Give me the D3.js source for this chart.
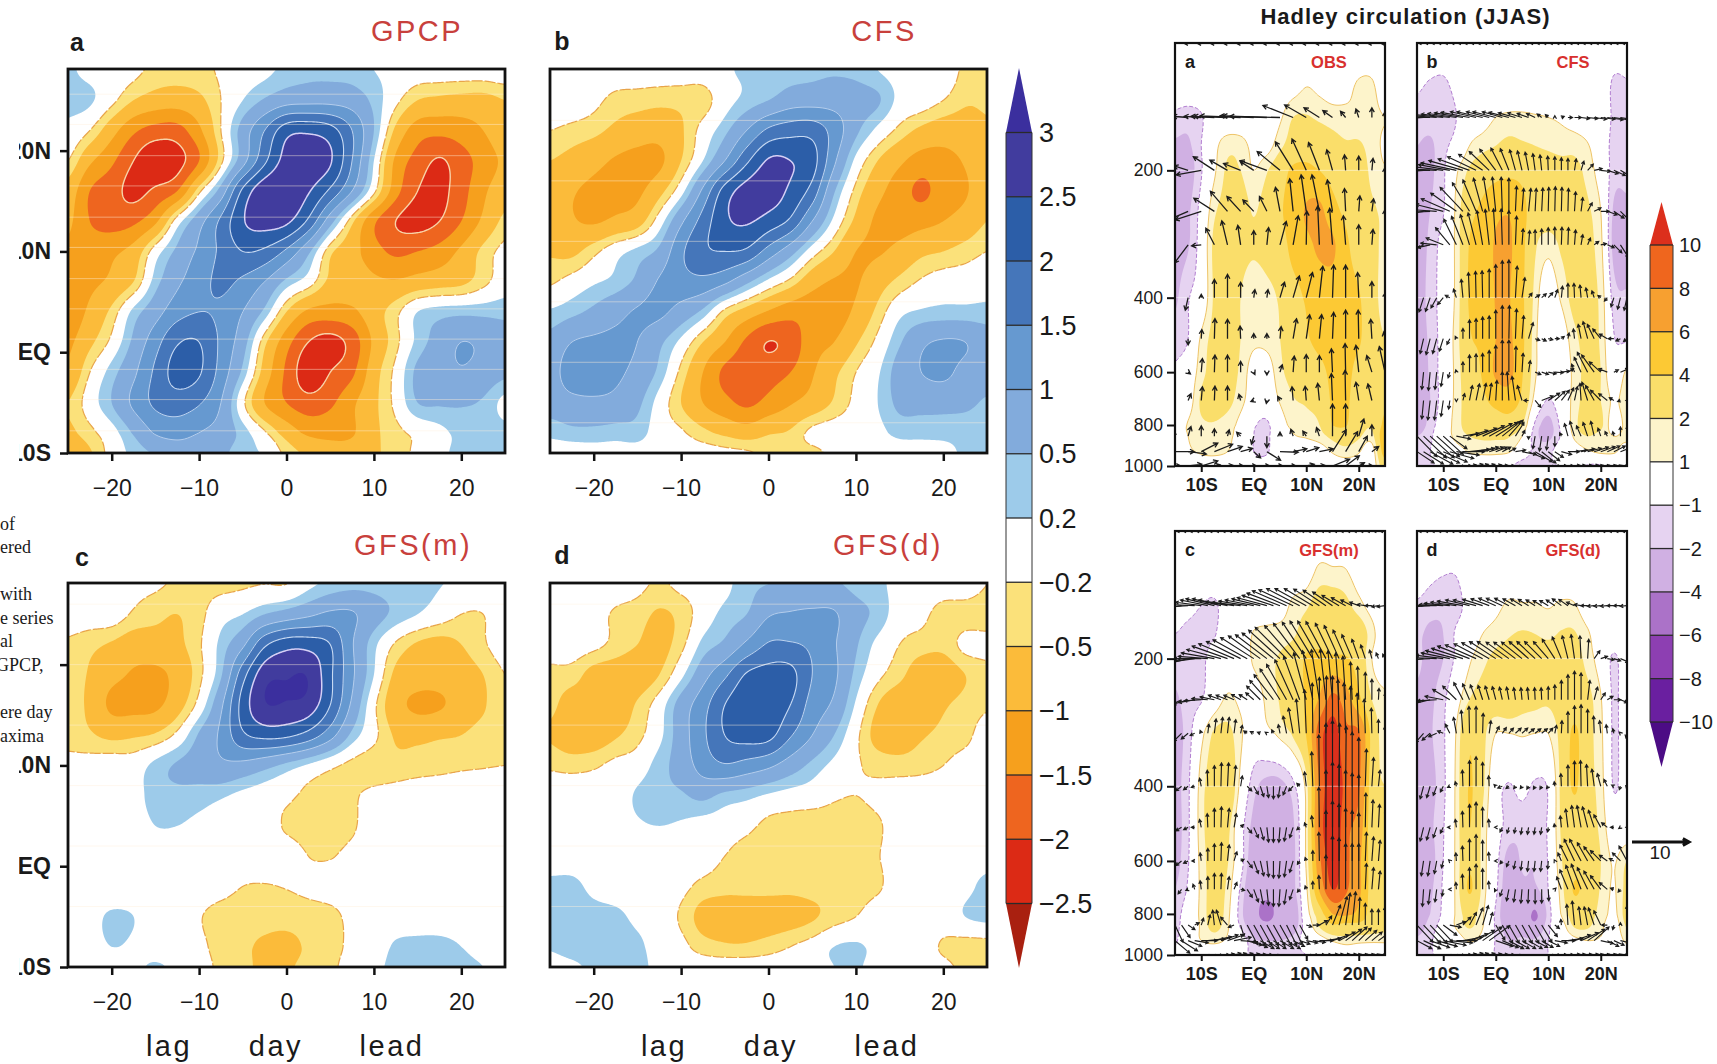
<!DOCTYPE html>
<html>
<head>
<meta charset="utf-8">
<script src="https://cdn.jsdelivr.net/npm/d3@7"></script>
<style>
body { margin: 0; background: #fff; }
text { font-family: "Liberation Sans", sans-serif; fill: #1a1a1a; }
</style>
</head>
<body>
<script>
const width = 1717;
const height = 1064;

// lag-latitude panels: rain anomaly, one row per latitude
const lags = d3.range(21).map(i => -25 + i * 2.5);
const lats = [28, 25, 22, 19, 16, 13, 10, 7, 4, 1, -2, -5, -8, -10];

const gpcp = [
  [.25,.1,0,-.1,-.3,-.35,-.3,-.15,0,.1,.3,.4,.4,.35,.2,.1,0,0,0,0,.05],
  [.3,.25,-.1,-.5,-.7,-.75,-.6,-.2,.2,.55,.8,.85,.85,.75,.4,-.1,-.5,-.6,-.65,-.65,-.5],
  [.1,-.2,-.8,-1.4,-1.7,-1.7,-1.1,-.2,.7,1.5,2.3,2.4,2.2,1.5,.5,-.6,-1.25,-1.35,-1.25,-1,-.6],
  [-.2,-.9,-1.4,-2,-2.4,-2.2,-1.5,-.3,.8,1.9,2.7,2.8,2.55,1.5,.2,-1.1,-1.7,-2.05,-1.7,-1.3,-.9],
  [-.7,-1.5,-1.8,-2.15,-1.9,-1.5,-.3,.7,2.1,2.85,2.9,2.55,1.9,1,-.1,-1.3,-2,-2.15,-1.7,-1.1,-.7],
  [-.9,-1.5,-1.7,-1.6,-1.1,0,.8,1.6,2.45,2.7,2.6,1.9,.7,-.4,-1.4,-2,-2.2,-2,-1.5,-.9,-.4],
  [-1.1,-1.2,-1.1,-.8,0,.6,1.1,1.6,2,1.9,1.4,.6,-.4,-.8,-1.3,-1.6,-1.5,-1.3,-.9,-.4,-.1],
  [-1.2,-1.1,-.9,-.5,.35,.9,1.3,1.6,1.4,1,.4,0,-.6,-.7,-.9,-.95,-.8,-.7,-.6,-.3,0],
  [-1.3,-.9,-.4,.3,.8,1.3,1.5,1.4,1,.4,-.5,-1.1,-1.2,-1.1,-.7,-.3,.2,.35,.4,.4,.4],
  [-1.1,-.6,-.1,.6,1.3,1.95,2,1.4,.7,-.4,-1.3,-2,-2.2,-1.8,-.9,-.3,.3,.7,1,.9,.7],
  [-.9,-.2,.35,.9,1.6,2.2,2.05,1.3,.4,-.7,-1.6,-2.3,-2,-1.6,-.7,-.1,.6,.8,.95,.8,.6],
  [-.5,0,.5,1.1,1.6,1.75,1.55,1,-.1,-1,-1.5,-1.8,-1.6,-1.1,-.6,-.1,.5,.55,.55,.45,.1],
  [-.6,-.3,.05,.55,1.05,1.2,1,.8,.35,-.15,-.7,-1.1,-1.15,-1.05,-.6,-.3,-.1,.1,.3,.35,.3],
  [-.9,-.55,-.05,.3,.55,.7,.7,.6,.3,.15,-.3,-.6,-.8,-.8,-.55,-.4,-.1,.1,.3,.3,.3]
];
const cfs = [
  [0,0,0,0,0,0,0,0,.15,.25,.3,.35,.4,.45,.4,.2,.05,.05,.1,-.3,-.4],
  [.05,.05,-.1,-.3,-.35,-.4,-.4,-.35,.05,.3,.5,.75,.8,.8,.7,.55,.1,0,-.2,-.45,-.45],
  [-.2,-.3,-.4,-.6,-.75,-.8,-.55,-.05,.4,1,1.6,1.8,1.8,1.3,.6,.1,-.3,-.6,-.75,-.7,-.55],
  [-.5,-.65,-.85,-1.05,-1.15,-1.1,-.5,.2,1,1.9,2.55,2.5,2.2,1.1,.1,-.5,-.9,-1.2,-1.15,-.95,-.6],
  [-.7,-.95,-1.1,-1.15,-1.1,-.65,.05,1.1,2.2,2.7,2.75,2.4,1.8,.55,-.3,-.85,-1.25,-1.6,-1.25,-1.05,-.7],
  [-.7,-.95,-1.05,-.9,-.7,0,.9,1.7,2.4,2.55,2.3,1.9,1,.1,-.6,-1.1,-1.2,-1.15,-1,-.8,-.5],
  [-.55,-.6,-.3,.05,.3,.6,1.4,1.9,2,1.9,1.3,.7,0,-.5,-1,-1.05,-.85,-.6,-.5,-.35,-.2],
  [-.25,-.05,.15,.3,.6,1.05,1.3,1.35,1.1,.6,.1,-.3,-.8,-1.05,-1.05,-.7,-.4,-.15,0,0,.05],
  [.25,.4,.6,.85,1.05,1.1,.8,.4,-.3,-.7,-1.05,-1.3,-1.3,-1.25,-.9,-.4,.1,.25,.3,.3,.3],
  [.65,1,1.1,1.1,1,.6,.1,-.5,-1,-1.6,-2.01,-1.8,-1.2,-1,-.55,-.1,.45,.9,1.05,1,.75],
  [.8,1.25,1.3,1.1,.85,.4,-.3,-1,-1.6,-1.75,-1.7,-1.5,-1.05,-.6,-.2,.15,.7,1,1.1,.85,.7],
  [.7,.85,.9,.85,.6,.05,-.5,-1,-1.35,-1.6,-1.35,-1.05,-.8,-.45,-.1,.2,.6,.65,.65,.6,.45],
  [.3,.4,.4,.35,.35,0,-.15,-.4,-.6,-.75,-.55,-.45,-.1,0,0,.1,.3,.3,.3,.3,.3],
  [0,0,.05,.05,.05,0,-.05,-.05,-.1,-.15,-.3,-.35,-.3,-.1,0,0,0,.05,.1,.25,.3]
];
const gfsM = [
  [0,0,0,-.1,-.15,-.25,-.3,-.3,-.25,-.2,-.2,.1,.3,.4,.4,.35,.3,.22,.1,0,0],
  [0,0,0,-.25,-.4,-.5,-.3,.05,.2,.5,.7,.9,1.1,1.05,.7,.4,.2,0,-.2,-.2,0],
  [-.25,-.4,-.55,-.75,-.7,-.6,-.25,.3,.9,1.9,2.3,2.3,2,1.05,.3,-.25,-.55,-.65,-.5,-.25,0],
  [-.25,-.55,-.85,-1.05,-1.1,-.85,-.3,.45,1.8,2.8,2.95,2.95,2.1,1.1,.2,-.6,-.75,-.8,-.7,-.5,-.2],
  [-.3,-.6,-1.1,-1.15,-1.1,-.7,-.05,.9,2.2,2.95,2.95,2.8,2,.9,-.1,-.8,-1.1,-1.05,-.8,-.55,-.2],
  [-.3,-.45,-.6,-.55,-.45,-.1,.55,1.1,1.9,2.15,2.1,1.8,1.2,.4,-.1,-.55,-.6,-.55,-.5,-.35,-.3],
  [-.1,-.05,0,0,.3,.55,.7,.9,.85,.65,.4,.15,-.1,-.3,-.4,-.4,-.35,-.3,-.25,-.22,-.2],
  [0,0,0,.05,.35,.4,.35,.25,.1,0,-.1,-.3,-.35,-.25,-.1,-.05,0,0,0,0,0],
  [0,0,0,0,.2,.2,.1,0,0,0,-.25,-.35,-.35,-.25,0,0,0,0,0,0,0],
  [0,0,0,0,0,0,0,0,0,0,0,-.2,-.22,-.1,0,0,0,0,0,0,0],
  [0,0,0,0,0,0,0,-.06,-.2,-.22,-.18,-.12,-.05,0,0,0,0,0,0,0,0],
  [0,.1,.24,.2,0,0,-.17,-.35,-.4,-.4,-.38,-.35,-.3,-.1,0,0,0,0,0,0,0],
  [0,.08,.2,.15,0,0,-.1,-.35,-.45,-.55,-.6,-.45,-.35,-.1,0,.25,.3,.3,.2,.05,0],
  [0,0,0,.1,.25,.1,0,-.3,-.4,-.6,-.55,-.4,-.3,0,.1,.3,.3,.3,.3,.2,0]
];
const gfsD = [
  [0,0,0,0,-.1,-.25,-.1,0,.1,.4,.5,.55,.55,.55,.4,.3,.05,0,0,0,-.2],
  [0,0,-.05,-.25,-.35,-.55,-.4,0,.3,.5,.95,1.05,1.1,1.05,.65,.4,0,-.1,-.35,-.35,-.35],
  [0,0,-.1,-.3,-.5,-.65,-.3,.3,.6,1.1,1.55,1.55,1.4,1.05,.55,.1,-.2,-.35,-.4,-.1,-.1],
  [-.3,-.35,-.65,-.75,-.75,-.5,.1,.8,1.4,2.05,2.2,2.15,1.5,1.1,.4,-.1,-.4,-.75,-.75,-.5,-.3],
  [-.4,-.7,-.6,-.75,-.45,0,.7,1.3,2,2.35,2.3,2,1.3,.9,.15,-.5,-.8,-.8,-.55,-.4,-.25],
  [-.55,-.8,-.75,-.55,-.3,.1,.75,1.4,2,2.2,2.15,1.55,1,.5,-.1,-.65,-.75,-.55,-.4,-.3,0],
  [-.25,-.3,-.25,-.1,0,.35,.7,1.2,1.45,1.3,1.1,.75,.4,.1,-.15,-.3,-.35,-.3,-.2,-.05,0],
  [0,0,0,0,.25,.4,.45,.6,.4,.3,.15,.05,0,-.15,-.2,-.12,0,0,0,0,0],
  [0,0,0,0,.15,.2,.15,.05,0,-.1,-.3,-.35,-.4,-.35,-.35,-.25,0,0,0,0,0],
  [0,0,0,0,0,0,0,0,-.2,-.35,-.4,-.4,-.42,-.4,-.35,-.22,0,0,0,0,.05],
  [.3,.3,.1,0,0,0,-.1,-.3,-.4,-.4,-.4,-.42,-.4,-.4,-.35,-.25,0,0,0,.1,.3],
  [.4,.4,.35,.3,.1,0,-.25,-.65,-.7,-.72,-.72,-.68,-.55,-.35,-.2,0,0,0,0,.2,.3],
  [.25,.4,.45,.45,.3,0,-.1,-.35,-.45,-.45,-.35,-.2,-.05,.2,.25,.1,0,0,-.25,-.35,-.35],
  [0,.1,.3,.35,.35,.05,0,0,0,0,0,0,.05,.2,.25,.05,0,0,-.1,-.3,-.35]
];

const lagTicks = [-20, -10, 0, 10, 20];
const latTicks = [20, 10, 0, -10];
const latLabels = ["20N", "10N", "EQ", "10S"];
const latLabelsC = ["", "10N", "EQ", "10S"];

// the faint scan lines left in the reproduction
const faintA = [25.6, 22.6, 19.5, 16.5, 13.4, 10.4, 7.3, 4.3, 1.3, -1.7, -4.7, -7.8];
const faintB = [23, 17, 11, 5, -1, -7];
const faintCD = [26, 20, 14, 8, 2, -4];

const rainLevels = [-2.5, -2, -1.5, -1, -0.5, -0.2, 0.2, 0.5, 1, 1.5, 2, 2.5, 3];
const rainColors = ["#a92010", "#dc2a15", "#ee651f", "#f6a01d", "#fbbb3a", "#fbe17a", "#ffffff",
  "#9dcbea", "#82abdc", "#6699d0", "#4576ba", "#2c5ea8", "#413c9e", "#3b2f9e"];
const rainLabels = ["3", "2.5", "2", "1.5", "1", "0.5", "0.2", "−0.2", "−0.5", "−1", "−1.5", "−2", "−2.5"];

// Hadley panels: shading (vertical motion)
const hadleyLats = d3.range(17).map(i => -15 + i * 2.5);
const shadeLevels = [100, 125, 150, 175, 200, 250, 300, 400, 500, 600, 700, 800, 850, 925, 1000];

const shadeObs = [
  [0,0,0,0,0,0,0,0,0,0,0,0,0,0,0,0,0],
  [0,0,0,0,0,0,0,0,0,.3,.9,.6,.3,.6,1.1,1.1,.3],
  [-1.3,-1.5,-1.1,0,0,0,0,0,.8,2,2.1,1.8,1.5,1.3,1.2,1.2,1],
  [-2.2,-2.2,-1,.6,1.6,1.5,.6,.5,1.7,2.7,3.1,3,2.6,2.2,2.2,1.5,.8],
  [-2.6,-2.6,-1.1,.8,2.2,2,1,1.9,3.2,4.3,4.5,4,3.4,3.1,2.8,1.7,1.1],
  [-2.5,-2.2,-.5,1.8,2.4,2.8,1.9,2.8,3.8,4.7,6.2,6.5,4.7,3.6,2.8,2.2,1.8],
  [-2.5,-2.1,-.3,2.3,2.2,2.4,2.2,2.6,3.2,4.6,5.4,6.4,6.3,4.5,2.9,2.3,1.8],
  [-2.2,-1.1,-.2,2.2,2.6,2,1.3,1.6,2.2,3.3,4.2,4.8,5,4.9,4.2,2.4,1.8],
  [-1.5,-1,1.2,2.4,2.4,2,1.3,1.4,2,3,3.8,4.5,4.8,4.9,4.3,2.5,2],
  [-.8,-.1,1.6,2.5,2.5,1.8,.3,.3,1.7,2.5,2.9,3.5,4.4,4.7,3.2,2.6,2.3],
  [-.2,.3,2.2,2.6,2.4,1.4,.2,0,1.1,1.9,2.2,2.8,4.2,4.4,2.8,2.4,3.5],
  [0,1.1,1.8,1.9,1.5,.6,-.8,-1.2,.4,1.3,1.5,2,4,4.1,2.8,2.2,4.5],
  [0,1,1.4,1.3,1.2,.5,-1,-1.2,.1,.9,1.1,1.5,2.4,3,2.2,1.6,5.5],
  [0,.8,1.1,1.2,1,.4,-1,-1.1,0,.6,.2,.3,1.1,1.5,1.1,.3,5],
  [0,.3,.5,.4,.3,.1,-.5,-.5,0,0,0,0,.4,.5,.5,.2,3]
];
const shadeCfs = [
  [0,0,0,0,0,0,0,0,0,0,0,0,0,0,0,0,0],
  [-.8,-1.1,-1.2,-.6,0,0,0,0,0,0,0,0,0,0,0,-1.2,-1.1],
  [-1.4,-1.5,-1.5,-1,0,.4,1,1.2,1.2,1.1,1,.8,.4,.1,0,-1.2,-1.2],
  [-2,-2.2,-1.3,-.5,1,1.6,2,2.4,2.2,2,1.8,1.6,1.6,1.1,0,-1.4,-1.3],
  [-2.2,-2.2,-1.2,.8,2.2,3,3.4,3.6,3.5,2.9,2.7,2.5,2.4,1.6,.3,-1.5,-1.6],
  [-2.3,-2,-1.1,1.3,3.4,4.4,5.5,5.8,4.6,3,2.8,2.6,2.6,2.2,1,-2.2,-2.3],
  [-2.3,-1.8,-.3,1.3,4.1,4.7,6.2,6.3,4.5,2.2,1.4,2.2,2.6,2.3,1.3,-2.4,-2.5],
  [-2.3,-1.7,-.2,1.3,4.2,4.5,6.1,6.1,4.4,1.6,0,1.2,2.5,2.3,1.7,-1.5,-1.9],
  [-2.4,-1.8,-.3,1.5,3.8,4.3,6,6.3,4.5,1.3,-.1,.2,1.7,2.4,1.8,-.9,-1.2],
  [-3.2,-1.8,-.4,1.4,3.2,4.2,6.3,6.6,4.2,1.2,0,.2,1.3,2.5,2,-.2,1.2],
  [-3.8,-2,-.4,1.4,2.8,3.6,4.6,5,3.6,.5,-1.1,0,1.4,2.6,2,.8,1.6],
  [-3,-1.5,-.2,1.6,2.4,2.8,3,3.2,2.2,-1.2,-2.4,-.6,1.6,2.8,2.3,.3,1.4],
  [-2,-1.2,0,1.4,2,2.2,2.2,2.1,1,-1.6,-2.3,-.8,1.2,2,1.5,1,1.2],
  [-1.2,-1,-.2,.3,1.1,1.3,1.3,1.1,-.1,-1.3,-1.3,-.2,.2,.8,1.2,1.1,.6],
  [-1.3,-1.1,-.8,-.6,-.2,-.2,-.3,-.8,-1.5,-1.4,-1.2,-.9,-.6,-1.1,-1.1,-.2,0]
];
const shadeGfsM = [
  [0,0,0,0,0,0,0,0,0,0,0,0,0,0,0,0,0],
  [0,0,0,0,0,0,0,0,0,0,.3,1.3,1.2,1.1,.3,0,0],
  [-.2,-.6,-1,-1.2,-.2,0,0,0,.3,1.3,1.8,2.8,2.9,2.4,1.4,.5,0],
  [-1,-1.3,-1.3,-1.1,0,0,1.1,1.4,1.5,1.8,2.8,3.2,3.2,3.2,3,1.4,0],
  [-1.4,-1.3,-1.3,-.3,0,0,1.2,1.8,2.1,2.8,4.2,4.6,4.4,4.2,3.2,1,.2],
  [-2.2,-1.5,-1.1,.2,1.2,.7,.1,1.3,2.1,3,4.2,6.2,8.6,7,4.5,2,1.2],
  [-2.5,-1.5,.6,2.2,2.4,1.2,0,.6,1.3,2.2,4.1,9,11,8.5,8.2,3.4,1.3],
  [-2.4,-1.2,1.5,2.8,3.6,.6,-1.6,-2.4,-2.4,-1.3,1.5,8.2,11.5,9.5,8.3,3,2],
  [-2.5,-1.2,1.6,2.6,2.4,-.4,-2.4,-2.9,-2.9,-2.2,1.3,8.5,12,8.6,7.2,3,3.2],
  [-2.4,-1.1,1.4,2.6,2.1,-.4,-3,-3.2,-3.2,-2.4,1.2,7.5,11,8.6,6.5,3.3,3.2],
  [-2,-.8,1.3,2.6,1.7,-1.2,-3.4,-3.5,-3.5,-2.4,.7,6.2,10,8.3,6.5,3.3,3.2],
  [-1.5,-.2,1.3,2.7,1.4,-1.6,-3.4,-4.5,-3.4,-3.2,.3,3,6,6.4,5.5,3.2,3.2],
  [-1.3,-.2,1.2,2.5,1.2,-1.2,-3,-3.6,-3,-2.8,-.2,2.2,3.8,3.5,3.5,3,2.6],
  [-1.2,.3,1,1.3,.8,-.1,-1.8,-2,-2,-1.6,-.3,.3,1.1,1.5,1.3,1.2,1.2],
  [-.6,0,0,0,0,-.8,-1.1,-1.2,-1.2,-1.2,-1,-.6,-.3,0,0,0,0]
];
const shadeGfsD = [
  [0,0,0,0,0,0,0,0,0,0,0,0,0,0,0,0,0],
  [0,-.6,-.9,-.9,-.1,0,0,0,0,0,0,0,0,0,0,0,0],
  [-1.2,-1.6,-1.7,-1.4,-.5,0,.6,1.2,1.1,1.1,.9,1.2,1.1,.1,0,0,0],
  [-1.8,-2.2,-2,-.8,0,1,1.5,1.9,2.1,2,1.8,2.1,2.1,1.2,0,-.1,0],
  [-1.8,-2.3,-2,-.7,.8,1.7,2.3,2.5,2.5,2.5,2.5,2.6,2.5,1.6,.3,-1.2,0],
  [-2.2,-2.2,-1.3,.4,2,2.5,2.8,3,2.5,2.3,2.2,2.6,2.9,2.4,1.1,-1.2,0],
  [-2.2,-2.1,-1.2,1.1,3.7,2.4,1,1,1.1,1,1,2.5,4.3,2.5,1.3,-1.2,0],
  [-2.5,-2.3,-1.3,1.3,4.1,2.3,-.3,-1.1,-.5,-1.2,-.8,2.4,4.2,2.5,1.5,-1.1,0],
  [-2.6,-2.2,-1.1,1.3,4,1.7,-.3,-1.4,-1.7,-1.5,-.8,2.2,3,2.8,1.7,0,0],
  [-2.4,-2.4,-1,1.3,3.7,1.6,-.5,-2.5,-1.9,-1.9,-.9,1.9,3,3.8,2,.9,2],
  [-2.3,-2.2,-.8,1.3,4.2,1.6,-.7,-3,-2.2,-2.2,-1,1.5,4.2,3,1.9,.9,2.4],
  [-2.6,-2,-.7,1.2,2.6,1.2,-1.2,-3.2,-2.6,-4.2,-1.6,1.1,2.7,2.4,1.7,.7,2.6],
  [-2.6,-1.6,-.4,1.2,2.2,1.1,-1.2,-2.7,-2.6,-3.6,-1.3,.4,2.2,2.2,1.3,.3,2.2],
  [-1.8,-1.2,0,.3,1.1,.5,-1.1,-2,-1.8,-1.8,-1,-.1,.6,1,.8,.3,1.2],
  [-1.3,-1.1,-.6,0,0,-.3,-1.1,-1.4,-1.2,-1.2,-1,-.8,-.6,-.7,-.6,.3,.5]
];

const shadeBands = [-10, -8, -6, -4, -2, -1, 1, 2, 4, 6, 8, 10];
const shadeColors = ["#4c0c85", "#6a1fa0", "#8d3fb2", "#ab72c8", "#d0b0e3", "#e6d3f1", "#ffffff",
  "#fdf4cb", "#fade6a", "#fcc934", "#f7a030", "#ef661e", "#dc2f1c"];
const shadeLabels = ["10", "8", "6", "4", "2", "1", "−1", "−2", "−4", "−6", "−8", "−10"];

// Hadley panels: wind vectors, in tenths of the reference arrow's unit
const windLevels = [100, 150, 200, 250, 300, 400, 500, 600, 700, 850, 925, 1000];
const obsLats = hadleyLats;
const modelLats = d3.range(33).map(i => -15 + i * 1.25);

const obsU = [
  [-8,-8,-8,-8,-8,-8,-8,-8,-8,-8,-8,-8,-8,-8,-8,-8,-8],
  [-18,-27,-30,-41,-59,-71,-59,-77,-88,-53,-38,-27,-17,-9,-5,0,0],
  [-20,-25,-44,-37,-31,-30,-24,-47,-40,-31,-25,-19,-10,-2,0,2,0],
  [-15,-28,-46,-36,-30,-24,-19,-13,-8,-6,-9,-13,-9,-2,2,3,0],
  [-10,-24,-17,-15,-10,-5,0,3,11,9,1,-3,-5,-4,0,2,0],
  [0,-5,0,0,0,0,2,2,8,11,11,6,2,0,-2,0,1],
  [0,0,1,1,0,-1,0,0,2,6,6,4,2,0,-1,-2,-2],
  [0,4,2,1,0,0,2,0,4,2,0,0,-2,-1,-5,-9,-10],
  [0,5,2,1,0,-3,-5,-1,-4,-2,-2,-3,-2,-1,-5,-7,0],
  [-6,5,0,0,3,-7,-4,0,0,-4,-6,-5,0,0,9,0,0],
  [34,32,29,32,26,21,12,24,32,24,22,24,24,21,15,12,9],
  [10,24,29,10,10,5,5,5,5,5,14,10,30,24,10,2,0]
];
const obsW = [
  [0,0,0,0,0,0,0,0,0,0,0,0,0,0,0,0,0],
  [2,2,2,2,2,3,3,3,2,21,22,17,12,11,15,17,10],
  [0,8,-8,24,18,12,16,17,33,50,55,49,36,27,25,21,5],
  [-8,-12,-15,23,35,26,20,26,42,57,64,64,55,40,27,22,3],
  [-20,-32,-2,29,42,34,25,30,41,51,59,68,64,51,35,27,0],
  [0,-22,6,32,41,27,14,14,27,38,44,55,57,57,44,28,9],
  [0,-11,16,35,34,22,9,9,21,35,42,42,46,50,50,34,12],
  [0,-3,24,30,30,19,-4,-5,13,28,31,29,41,50,47,29,45],
  [0,12,24,25,25,11,-2,-5,7,24,25,30,47,53,32,29,0],
  [3,17,18,13,11,7,-14,-20,7,12,9,15,56,56,30,20,0],
  [0,-4,15,13,9,6,-11,-15,-1,5,7,5,38,35,27,9,11],
  [0,3,9,2,1,0,0,0,0,0,3,1,12,18,6,0,0]
];

const topRowU = [-9,-9,-9,-9,-9,-9,-9,-9,-9,-9,-9,-9,-9,-9,-9,-9,-9,-9,-9,-9,-9,-9,-9,-9,-9,-9,-9,-9,-9,-9,-9,-9,-9];
const topRowW = [0,0,0,0,0,0,0,0,0,0,0,0,0,0,0,0,0,0,0,0,0,0,0,0,0,0,0,0,0,0,0,0,0];
const surfaceU = [15,15,18,18,18,18,15,15,12,12,10,10,10,10,10,12,12,12,12,12,12,10,10,10,10,8,8,8,5,5,5,3,3];
const surfaceW = [-3,-3,-3,-3,-2,-2,-1,0,2,3,3,3,2,1,0,-2,-3,-3,-3,-3,-2,-1,0,0,1,1,1,1,1,1,1,1,1];

const cfsU = [
  topRowU,
  [-20,-30,-40,-45,-50,-50,-50,-50,-50,-45,-45,-40,-40,-35,-35,-30,-25,-20,-15,-8,-5,0,5,8,12,15,18,22,25,28,30,35,38],
  [-20,-30,-35,-40,-50,-55,-62,-60,-55,-50,-42,-35,-28,-20,-15,-10,-8,-6,-4,-3,-1,0,0,0,3,5,10,14,17,19,20,20,20],
  [-25,-30,-38,-45,-48,-50,-45,-40,-30,-23,-16,-10,-6,-2,0,2,3,4,2,2,1,1,1,1,2,3,8,12,15,17,18,18,18],
  [-15,-18,-22,-28,-30,-25,-22,-20,-16,-14,-10,-7,-4,-2,0,2,2,2,0,0,0,0,1,1,2,3,5,8,10,12,14,14,14],
  [-8,-8,-8,-10,-10,-8,-5,-3,-2,-1,-1,0,0,0,0,3,5,6,8,8,8,5,2,0,-1,-2,-3,-4,-5,-5,-5,-5,-5],
  [-6,-6,-7,-7,-7,-5,-2,0,0,0,0,0,0,0,1,2,3,8,8,8,8,8,5,2,-2,-5,-8,-12,-14,-14,-10,-8,-6],
  [-3,-3,-3,-3,-4,-3,-1,0,0,0,0,0,0,0,0,1,2,3,10,12,14,15,14,10,-5,-12,-18,-22,-20,-15,8,14,16],
  [-3,-3,-4,-4,-4,-2,0,3,5,6,6,4,2,0,-3,-6,-8,-8,10,20,20,18,14,10,5,-2,-10,-15,-18,-15,-8,-5,-2],
  [35,40,42,40,35,30,25,28,32,36,38,40,38,32,25,15,5,0,-4,-4,-3,0,-3,-6,-8,-8,-8,-6,-5,-4,-2,0,1],
  [30,35,40,40,42,42,40,38,35,32,28,25,20,15,12,18,25,28,30,25,20,15,18,20,22,24,24,25,25,22,20,20,18],
  surfaceU
];
const cfsW = [
  topRowW,
  [-3,-2,0,3,5,6,7,8,9,10,10,10,10,10,9,8,8,7,7,6,5,3,2,0,0,-2,-2,-3,-3,-4,-5,-6,-8],
  [-5,-3,0,2,6,10,13,17,20,24,28,33,37,39,38,36,34,32,29,27,25,24,22,21,20,16,11,3,-2,-6,-9,-12,-15],
  [-7,-5,-2,3,12,22,32,42,50,55,58,60,60,60,58,44,40,40,40,41,42,43,42,40,34,24,15,6,0,-6,-12,-18,-24],
  [-14,-10,-5,3,12,30,45,50,53,56,60,62,63,63,60,50,28,25,26,28,30,31,31,30,26,18,12,6,2,-5,-14,-22,-28],
  [-22,-25,-24,-18,-12,4,15,32,44,46,47,50,58,65,66,55,35,8,5,7,9,14,20,25,25,22,17,12,4,-6,-16,-20,-22],
  [-25,-26,-28,-26,-22,-10,4,18,33,35,38,40,50,58,58,52,40,28,-3,-4,-2,0,4,10,17,25,30,25,17,8,0,-4,-5],
  [-28,-30,-32,-30,-25,-10,4,18,30,32,33,38,47,56,56,45,33,20,-4,-4,-3,-1,2,6,14,26,35,30,18,6,4,6,4],
  [-30,-32,-34,-34,-28,-15,-2,12,26,29,30,30,35,50,50,42,26,0,-12,8,13,16,18,22,24,30,32,26,18,12,5,-2,0],
  [-36,-38,-38,-36,-32,-22,-5,5,10,14,18,22,24,26,28,24,10,-5,-22,-26,-24,-18,6,22,26,18,24,26,14,8,8,16,18],
  [-20,-22,-22,-20,-18,-12,-6,0,4,6,8,8,8,8,6,3,-5,-12,-18,-20,-16,-10,-5,0,3,5,6,8,9,10,10,8,8],
  surfaceW
];
const gfsMU = [
  topRowU,
  [-30,-35,-40,-42,-45,-48,-50,-50,-50,-50,-50,-50,-50,-50,-52,-55,-58,-60,-60,-58,-55,-50,-45,-40,-35,-30,-25,-20,-16,-14,-12,-12,-14],
  [-35,-38,-40,-42,-48,-52,-58,-60,-62,-62,-60,-60,-58,-56,-55,-55,-55,-55,-50,-46,-42,-40,-38,-35,-30,-26,-22,-18,-12,-8,-4,-4,-4],
  [-22,-24,-26,-28,-30,-28,-25,-22,-20,-18,-16,-14,-14,-24,-30,-34,-35,-35,-32,-28,-22,-18,-14,-10,-8,-6,-5,-3,-2,0,0,1,1],
  [-14,-14,-12,-8,-2,2,3,3,3,3,3,-6,-6,-5,-3,-3,-3,-6,-8,-6,-3,-1,0,1,0,-2,-3,-3,-3,-2,-1,0,0],
  [-12,-10,-8,-6,-3,-1,0,1,2,3,3,8,8,6,3,0,-3,-6,-8,-5,-3,-2,-1,0,0,1,1,0,0,2,3,3,3],
  [-10,-10,-8,-6,-3,-1,0,1,3,4,5,8,8,6,3,0,-2,-4,-6,-5,-3,-2,-1,0,0,0,0,0,0,1,2,2,2],
  [-10,-10,-8,-5,-2,0,0,1,3,5,6,9,8,6,3,0,-2,-4,-6,-4,-2,0,-1,0,0,0,0,0,0,2,3,3,3],
  [-8,-6,-4,-3,-2,0,0,1,3,5,7,9,8,5,3,0,-2,-4,-6,-4,-2,0,-1,0,0,0,0,0,0,2,3,3,3],
  [14,15,12,8,4,4,-3,-8,-12,-10,6,18,20,20,20,20,20,18,16,14,10,12,14,10,14,14,8,6,2,0,0,0,0],
  [26,28,24,24,28,30,30,30,28,30,28,26,24,24,22,22,24,24,20,18,20,22,24,26,28,28,28,26,22,20,18,16,14],
  surfaceU
];
const gfsMW = [
  topRowW,
  [-8,-6,-2,2,6,10,12,12,10,7,6,8,10,12,14,18,22,26,28,30,30,30,29,27,24,18,14,10,6,2,0,-2,-2],
  [-18,-14,-10,-6,0,4,10,16,22,26,30,33,37,40,42,45,50,55,58,62,64,66,66,65,62,58,50,42,34,24,15,10,8],
  [-14,-12,-8,-5,-2,2,5,8,8,8,9,9,12,24,34,44,54,62,70,76,82,86,88,88,86,82,76,66,58,48,36,20,12],
  [-18,-14,-10,-4,5,16,25,28,28,24,14,4,3,2,2,6,15,30,44,60,76,88,98,100,100,94,88,82,70,60,44,24,12],
  [-10,-8,-6,-2,14,28,36,41,41,36,18,-8,-14,-18,-20,-22,-20,-15,-8,5,25,60,90,110,115,110,105,95,85,65,50,28,16],
  [-8,-6,-4,0,14,24,33,36,33,24,5,-10,-18,-22,-26,-26,-26,-24,-18,-4,8,20,70,100,114,110,100,95,92,60,48,40,30],
  [-12,-8,-4,0,14,22,30,32,28,16,3,-12,-22,-26,-28,-30,-30,-28,-20,-6,6,18,50,88,105,100,92,88,84,50,42,36,26],
  [-12,-8,-2,9,15,22,28,28,22,12,-2,-14,-22,-26,-28,-30,-30,-26,-18,-5,6,14,24,60,93,90,80,80,80,45,38,32,24],
  [-30,-22,-8,4,12,18,26,26,14,-4,-20,-34,-36,-36,-36,-36,-36,-36,-34,-25,-3,0,8,16,35,50,56,58,48,38,28,28,32],
  [-22,-18,-10,-4,0,3,7,10,10,6,-2,-8,-12,-14,-14,-14,-14,-14,-10,-6,-4,-3,0,4,10,15,20,24,22,18,15,12,10],
  surfaceW
];
const gfsDU = [
  topRowU,
  [-30,-34,-38,-42,-42,-45,-45,-45,-42,-40,-35,-32,-30,-28,-25,-22,-20,-18,-16,-15,-15,-15,-16,-16,-14,-12,-12,-12,-12,-12,-12,-12,-12],
  [-30,-38,-40,-44,-48,-50,-54,-55,-56,-54,-50,-48,-46,-44,-40,-38,-36,-34,-32,-30,-26,-22,-16,-10,-6,-2,2,10,12,12,12,14,14],
  [-28,-30,-34,-34,-32,-30,-24,-16,-12,-10,-8,-7,-6,-5,-4,-3,-2,-2,-1,-1,0,0,0,0,0,0,4,6,8,10,12,12,12],
  [-14,-14,-14,-14,-10,-8,-5,-3,-1,0,1,3,6,7,8,10,10,10,10,10,8,3,1,0,0,0,0,-1,-2,-2,-2,-2,-2],
  [-5,-6,-6,-6,-5,-4,-2,-1,0,0,0,-1,-3,-8,-5,-3,-3,-3,-3,-3,-3,-1,-1,0,0,-1,-2,-4,-6,-6,-4,-2,-1],
  [-5,-6,-6,-6,-5,-4,-2,-1,0,0,0,-1,-2,-4,-3,-2,-2,-2,-2,-2,-1,-1,-2,-4,-5,-7,-9,-10,-12,-10,-6,-3,-2],
  [-3,-4,-4,-4,-3,-2,-1,-1,0,0,0,-1,-2,-4,-4,-3,-2,-2,-2,-2,-1,-1,-6,-14,-18,-20,-18,-18,-18,-14,-8,-14,-14],
  [-2,-2,-3,-3,-2,-2,-1,-1,0,0,0,-1,-2,-4,-4,-3,-2,-1,0,0,1,2,-8,-14,-15,-17,-18,-18,-18,-14,-6,-4,0],
  [28,30,30,28,24,20,16,14,12,12,10,6,16,18,18,18,18,18,18,18,16,8,-1,-2,-4,-4,-6,-10,-12,-10,-2,0,0],
  [26,30,34,36,40,40,36,34,32,32,34,36,30,28,26,24,24,24,22,20,20,22,24,26,28,30,30,26,22,20,18,18,18],
  surfaceU
];
const gfsDW = [
  topRowW,
  [-6,-4,-2,0,2,4,6,8,10,10,11,12,13,13,13,12,12,11,10,9,9,10,12,11,6,2,0,-1,-1,-1,0,0,-1],
  [-8,-4,-2,2,6,10,14,18,22,24,26,28,30,30,29,29,29,30,30,30,30,34,38,40,42,40,34,14,4,-2,-4,-6,-6],
  [-15,-12,-8,-2,6,18,24,30,28,26,25,24,23,22,22,21,21,21,21,21,23,26,34,44,50,47,34,22,12,6,0,-5,-9],
  [-18,-16,-12,-6,4,16,28,40,47,47,35,22,12,10,9,9,9,8,8,8,9,14,22,38,48,50,42,30,22,15,8,2,-8],
  [-20,-22,-20,-16,-10,-2,8,28,45,52,42,18,3,-3,-4,-4,-4,-5,-5,-5,-4,8,22,37,44,45,38,30,22,12,2,-6,-4],
  [-22,-24,-22,-18,-10,0,14,28,40,44,35,14,0,-8,-10,-10,-12,-12,-12,-12,-8,6,20,32,38,38,36,30,22,8,0,-2,0],
  [-26,-26,-26,-22,-12,2,14,26,38,46,36,15,0,-5,-10,-14,-16,-18,-18,-18,-14,2,14,28,38,38,32,25,18,10,4,14,26],
  [-30,-30,-26,-22,-12,0,12,26,38,44,36,14,-4,-12,-20,-22,-24,-24,-25,-24,-20,2,22,34,42,44,38,32,24,12,2,-5,0],
  [-30,-32,-32,-30,-18,-4,6,14,22,30,34,22,-26,-32,-32,-32,-32,-32,-32,-30,-20,-6,10,36,42,32,32,30,25,0,-8,4,34],
  [-14,-14,-12,-10,-8,-4,0,6,12,18,24,26,-10,-12,-14,-14,-14,-14,-12,-12,-10,-4,0,4,10,14,20,24,-5,-10,-8,-4,6],
  surfaceW
];

const hadleyXTicks = [-10, 0, 10, 20];
const hadleyXLabels = ["10S", "EQ", "10N", "20N"];
const hadleyYTicks = [200, 400, 600, 800, 1000];

const narrow = '"Liberation Sans Narrow", "Liberation Sans", sans-serif';
const red = "#c8403c";

const svg = d3.select("body").append("svg").attr("width", width).attr("height", height);
const defs = svg.append("defs");
const path = d3.geoPath();

// catmull-rom through the typed rows, so the contours come out round
function cubic(p0, p1, p2, p3, t) {
  return 0.5 * (2 * p1 + (p2 - p0) * t + (2 * p0 - 5 * p1 + 4 * p2 - p3) * t * t + (3 * p1 - p0 - 3 * p2 + p3) * t * t * t);
}

function sampleGrid(table, xs, ys, x, y, box) {
  const w = box.w + 2, h = box.h + 2;
  const xi = d3.scaleLinear().domain(xs.map(x)).range(d3.range(xs.length)).clamp(true);
  const yi = d3.scaleLinear().domain(ys.map(y)).range(d3.range(ys.length)).clamp(true);
  const at = (r, c) => table[Math.max(0, Math.min(ys.length - 1, r))][Math.max(0, Math.min(xs.length - 1, c))] || 0;
  const grid = new Float64Array(w * h);
  for (let j = 0; j < h; j++) {
    const fy = yi(box.y - 1 + j), r = Math.min(ys.length - 2, Math.floor(fy)), ty = fy - r;
    for (let i = 0; i < w; i++) {
      const fx = xi(box.x - 1 + i), c = Math.min(xs.length - 2, Math.floor(fx)), tx = fx - c;
      const rows = [-1, 0, 1, 2].map(dr => cubic(at(r + dr, c - 1), at(r + dr, c), at(r + dr, c + 1), at(r + dr, c + 2), tx));
      grid[j * w + i] = cubic(rows[0], rows[1], rows[2], rows[3], ty);
    }
  }
  return { grid, w, h };
}

function drawField(g, sampled, box, levels, colors, lineStyle) {
  g.append("rect").attr("x", box.x).attr("y", box.y).attr("width", box.w).attr("height", box.h).attr("fill", colors[0]);
  const contours = d3.contours().size([sampled.w, sampled.h]).thresholds(levels)(sampled.grid);
  const layer = g.append("g").attr("transform", `translate(${box.x - 1.5},${box.y - 1.5})`);
  layer.selectAll("path.fill").data(contours).join("path")
    .attr("class", "fill")
    .attr("d", path)
    .attr("fill", d => colors[levels.indexOf(d.value) + 1]);
  layer.selectAll("path.line").data(contours.filter(d => lineStyle[d.value])).join("path")
    .attr("class", "line")
    .attr("d", path)
    .attr("fill", "none")
    .attr("stroke", d => lineStyle[d.value].color)
    .attr("stroke-width", d => lineStyle[d.value].width)
    .attr("stroke-dasharray", d => lineStyle[d.value].dash || null);
}

function addClip(id, box) {
  defs.append("clipPath").attr("id", id).append("rect")
    .attr("x", box.x).attr("y", box.y).attr("width", box.w).attr("height", box.h);
}

function styleAxis(g, size, family, weight) {
  g.select(".domain").remove();
  g.selectAll("line").attr("stroke", "#111").attr("stroke-width", 2.5);
  g.selectAll("text").attr("font-size", size).attr("font-family", family).attr("font-weight", weight || null).style("font-family", family || null).attr("fill", "#1a1a1a");
}

// ---- lag-latitude panels ----
const rainLines = {
  "-2": { color: "#f8d3a8", width: 1.4 },
  "-0.2": { color: "#e8a44a", width: 1.2, dash: "11,2" },
  "1": { color: "#b4cdec", width: 1 },
  "1.5": { color: "#bcd2ef", width: 1 },
  "2": { color: "#c8daf3", width: 1.1 },
  "2.5": { color: "#d6d0f6", width: 1.5 }
};

const lagPanels = [
  { id: "a", data: gpcp, box: { x: 68, y: 69, w: 437, h: 384 }, title: "GPCP", titleX: 417, titleY: 31, letterX: 77, letterY: 42, faint: faintA, yLabels: latLabels },
  { id: "b", data: cfs, box: { x: 550, y: 69, w: 437, h: 384 }, title: "CFS", titleX: 884, titleY: 31, letterX: 562, letterY: 41, faint: faintB },
  { id: "c", data: gfsM, box: { x: 68, y: 583, w: 437, h: 384 }, title: "GFS(m)", titleX: 413, titleY: 545, letterX: 82, letterY: 557, faint: faintCD, yLabels: latLabelsC },
  { id: "d", data: gfsD, box: { x: 550, y: 583, w: 437, h: 384 }, title: "GFS(d)", titleX: 888, titleY: 545, letterX: 562, letterY: 555, faint: faintCD }
];

// the crop of the original figure cuts the first digit of the latitude labels
defs.append("clipPath").attr("id", "latLabelClip").append("rect").attr("x", 19).attr("y", 0).attr("width", 60).attr("height", height);

lagPanels.forEach(p => {
  const { box } = p;
  const x = d3.scaleLinear().domain([-25, 25]).range([box.x, box.x + box.w]);
  const y = d3.scaleLinear().domain([-10, 28.1]).range([box.y + box.h, box.y]);
  const g = svg.append("g");
  addClip("clip" + p.id, box);
  const inner = g.append("g").attr("clip-path", `url(#clip${p.id})`);
  drawField(inner, sampleGrid(p.data, lags, lats, x, y, box), box, rainLevels, rainColors, rainLines);
  inner.selectAll("line.faint").data(p.faint).join("line")
    .attr("class", "faint")
    .attr("x1", box.x).attr("x2", box.x + box.w)
    .attr("y1", d => y(d)).attr("y2", d => y(d))
    .attr("stroke", "#fff0dc").attr("stroke-opacity", 0.45);

  const xAxis = g.append("g").attr("transform", `translate(0,${box.y + box.h})`)
    .call(d3.axisBottom(x).tickValues(lagTicks).tickSize(8).tickPadding(19).tickFormat(d => String(d).replace("-", "−")));
  styleAxis(xAxis, 23);
  if (p.yLabels) {
    const yAxis = g.append("g").attr("clip-path", "url(#latLabelClip)").append("g").attr("transform", `translate(${box.x},0)`)
      .call(d3.axisLeft(y).tickValues(latTicks).tickSize(8).tickPadding(9).tickFormat((d, i) => p.yLabels[i]));
    styleAxis(yAxis, 23, narrow, "bold");
  }
  g.append("rect").attr("x", box.x).attr("y", box.y).attr("width", box.w).attr("height", box.h)
    .attr("fill", "none").attr("stroke", "#111").attr("stroke-width", 2.8);
  svg.append("text").attr("x", p.titleX).attr("y", p.titleY + 10).attr("text-anchor", "middle")
    .attr("font-size", 29).attr("letter-spacing", 2.5).style("fill", red).text(p.title);
  svg.append("text").attr("x", p.letterX).attr("y", p.letterY + 9).attr("text-anchor", "middle")
    .attr("font-size", 25).attr("font-weight", "bold").text(p.id);
});

[[169, "lag"], [276, "day"], [392, "lead"], [664, "lag"], [771, "day"], [887, "lead"]].forEach(([tx, label]) => {
  svg.append("text").attr("x", tx).attr("y", 1056).attr("text-anchor", "middle")
    .attr("font-size", 29).attr("letter-spacing", 2.5).text(label);
});

// ---- colour bars ----
function colorBar(labels, levels, colors, barX, barW, top, bottom, tipTop, tipBottom, fontSize, labelX) {
  const g = svg.append("g");
  const yb = d3.scalePoint().domain(labels).range([top, bottom]);
  const ys = labels.map(yb);
  // colours are stored low to high, the bar runs high to low
  const band = i => colors[colors.length - 1 - i];
  g.append("path").attr("d", `M${barX},${top}L${barX + barW / 2},${tipTop}L${barX + barW},${top}Z`).attr("fill", band(0));
  d3.pairs(ys).forEach(([a, b], i) => {
    g.append("rect").attr("x", barX).attr("y", a).attr("width", barW).attr("height", b - a).attr("fill", band(i + 1));
  });
  g.append("path").attr("d", `M${barX},${bottom}L${barX + barW / 2},${tipBottom}L${barX + barW},${bottom}Z`).attr("fill", band(colors.length - 1));
  g.selectAll("line").data(ys).join("line")
    .attr("x1", barX).attr("x2", barX + barW).attr("y1", d => d).attr("y2", d => d)
    .attr("stroke", "#2a2a2a").attr("stroke-width", 1.3);
  g.append("line").attr("x1", barX).attr("x2", barX).attr("y1", top).attr("y2", bottom).attr("stroke", "#333").attr("stroke-width", 1);
  g.append("line").attr("x1", barX + barW).attr("x2", barX + barW).attr("y1", top).attr("y2", bottom).attr("stroke", "#333").attr("stroke-width", 1);
  g.selectAll("text").data(labels).join("text")
    .attr("x", labelX).attr("y", d => yb(d)).attr("dy", "0.36em")
    .attr("font-size", fontSize).text(d => d);
}

colorBar(rainLabels, rainLevels, rainColors, 1006, 26, 132.5, 903.5, 68, 968, 27, 1039);
colorBar(shadeLabels, shadeBands, shadeColors, 1650, 23, 245, 722, 202, 767, 20, 1679);

// ---- Hadley panels ----
const shadeLines = {
  "1": { color: "#eec468", width: 1 },
  "-1": { color: "#b27fd0", width: 1, dash: "4,2" }
};

const hadleyPanels = [
  { id: "a", title: "OBS", shade: shadeObs, u: obsU, w: obsW, lats: obsLats, box: { x: 1175, y: 43, w: 210, h: 423 }, tx: 1329, head: 5, stroke: 1.3 },
  { id: "b", title: "CFS", shade: shadeCfs, u: cfsU, w: cfsW, lats: modelLats, box: { x: 1417, y: 43, w: 210, h: 423 }, tx: 1573, head: 3.5, stroke: 1.15 },
  { id: "c", title: "GFS(m)", shade: shadeGfsM, u: gfsMU, w: gfsMW, lats: modelLats, box: { x: 1175, y: 531, w: 210, h: 424 }, tx: 1329, head: 3.5, stroke: 1.15 },
  { id: "d", title: "GFS(d)", shade: shadeGfsD, u: gfsDU, w: gfsDW, lats: modelLats, box: { x: 1417, y: 531, w: 210, h: 424 }, tx: 1573, head: 3.5, stroke: 1.15 }
];

const arrowLen = d3.scaleLinear().domain([0, 100]).range([0, 57]);

function arrowPath(x0, y0, dx, dy, head) {
  const x1 = x0 + dx, y1 = y0 + dy, a = Math.atan2(dy, dx), s = 0.5;
  return `M${x0},${y0}L${x1},${y1}M${x1 - head * Math.cos(a - s)},${y1 - head * Math.sin(a - s)}L${x1},${y1}L${x1 - head * Math.cos(a + s)},${y1 - head * Math.sin(a + s)}`;
}

hadleyPanels.forEach(p => {
  const { box } = p;
  const x = d3.scaleLinear().domain([-15, 25]).range([box.x, box.x + box.w]);
  const y = d3.scaleLog().domain([100, 1000]).range([box.y, box.y + box.h]);
  const g = svg.append("g");
  addClip("hclip" + p.id, box);
  const inner = g.append("g").attr("clip-path", `url(#hclip${p.id})`);
  drawField(inner, sampleGrid(p.shade, hadleyLats, shadeLevels, x, y, box), box, shadeBands, shadeColors, shadeLines);

  inner.selectAll("line.lev").data([200, 400]).join("line")
    .attr("class", "lev")
    .attr("x1", box.x).attr("x2", box.x + box.w).attr("y1", d => y(d)).attr("y2", d => y(d))
    .attr("stroke", "#fff").attr("stroke-opacity", 0.5);

  const arrows = [];
  windLevels.forEach((lev, r) => {
    p.lats.forEach((lat, c) => {
      const u = p.u[r][c] || 0, w = p.w[r][c] || 0;
      if (u || w) arrows.push({ lev, lat, u, w });
    });
  });
  inner.append("g").selectAll("path").data(arrows).join("path")
    .attr("d", d => arrowPath(x(d.lat), y(d.lev), arrowLen(d.u), -arrowLen(d.w), p.head))
    .attr("fill", "none").attr("stroke", "#1c1c1c").attr("stroke-width", p.stroke);

  g.append("rect").attr("x", box.x).attr("y", box.y).attr("width", box.w).attr("height", box.h)
    .attr("fill", "none").attr("stroke", "#111").attr("stroke-width", 2.2);

  const xAxis = g.append("g").attr("transform", `translate(0,${box.y + box.h})`)
    .call(d3.axisBottom(x).tickValues(hadleyXTicks).tickSize(6).tickPadding(6).tickFormat((d, i) => hadleyXLabels[i]));
  styleAxis(xAxis, 18, narrow, "bold");
  xAxis.selectAll("line").attr("stroke-width", 2);
  if (p.id === "a" || p.id === "c") {
    const yAxis = g.append("g").attr("transform", `translate(${box.x},0)`)
      .call(d3.axisLeft(y).tickValues(hadleyYTicks).tickSize(8).tickPadding(4).tickFormat(d => d));
    styleAxis(yAxis, 17.5);
    yAxis.selectAll("line").attr("stroke-width", 2);
  }
  svg.append("text").attr("x", box.x + 15).attr("y", box.y + 25).attr("text-anchor", "middle")
    .attr("font-size", 18).attr("font-weight", "bold").text(p.id);
  svg.append("text").attr("x", p.tx).attr("y", box.y + 25).attr("text-anchor", "middle")
    .attr("font-size", 16.5).attr("font-weight", "bold").style("fill", "#d8302e").text(p.title);
});

svg.append("text").attr("x", 1405).attr("y", 24).attr("text-anchor", "middle")
  .attr("font-size", 22).attr("font-weight", "bold").attr("textLength", 289).text("Hadley circulation (JJAS)");

// reference vector
svg.append("path").attr("d", arrowPath(1632, 842, arrowLen(100), 0, 7))
  .attr("fill", "none").attr("stroke", "#111").attr("stroke-width", 3);
svg.append("text").attr("x", 1660).attr("y", 859).attr("text-anchor", "middle").attr("font-size", 19).text("10");

// stray caption lines from the page the figure was cut out of
[[525, "of", 0], [548, "ered", 0], [595, "with", 0], [619, "e series", 0], [642, "al", 0], [666, "GPCP,", -4], [713, "ere day", 0], [737, "axima", 0]].forEach(([ty, line, tx]) => {
  svg.append("text").attr("x", tx).attr("y", ty + 5).attr("font-size", 18)
    .style("font-family", '"Liberation Serif", serif').text(line);
});
</script>
</body>
</html>
